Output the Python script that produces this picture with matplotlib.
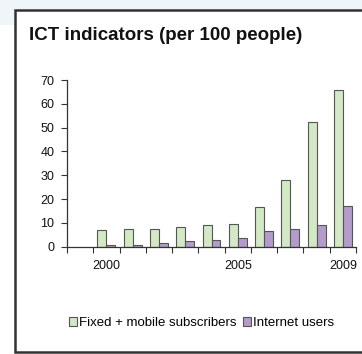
import matplotlib
matplotlib.use("Agg")
import matplotlib.pyplot as plt
from matplotlib.patches import Rectangle
import numpy as np

plt.rcParams['font.family'] = ['Liberation Sans', 'DejaVu Sans']

years = [2000, 2001, 2002, 2003, 2004, 2005, 2006, 2007, 2008, 2009]
subscribers = [7.2, 7.5, 7.6, 8.2, 9.2, 9.7, 16.8, 28.2, 52.4, 66.0]
internet = [0.7, 0.8, 1.4, 2.2, 2.9, 3.6, 6.8, 7.6, 9.3, 17.2]
year_labels = ["2000", "2005", "2009"]
series_names = ["Fixed + mobile subscribers", "Internet users"]

W, H = 362, 354
fig = plt.figure(figsize=(W / 100, H / 100), dpi=100)
fig.patch.set_facecolor("white")

# light header band and the framed panel
fig.add_artist(Rectangle((0, 1 - 25 / H), 1, 25 / H, transform=fig.transFigure,
                         facecolor="#eef6f9", edgecolor="none", zorder=-2))
fig.add_artist(Rectangle((14.5 / W, 2 / H), 1.2, 1 - 12 / H, transform=fig.transFigure,
                         facecolor="white", edgecolor="#333333", linewidth=1.8, zorder=-1))

fig.text(29 / W, 1 - 40.5 / H, "ICT indicators (per 100 people)", fontsize=13.5,
         fontweight="bold", color="#111111", va="baseline", ha="left")

ax = fig.add_axes([67 / W, 1 - 246.7 / H, (356 - 67) / W, (246.7 - 80) / H])
ax.set_facecolor("none")
ax.set_zorder(2)

x = np.array(years)
w = 0.342
edge = "#555555"
ax.bar(x - w / 2, subscribers, width=w, color="#d3e9c6", edgecolor=edge,
       linewidth=0.8, label=series_names[0])
ax.bar(x + w / 2, internet, width=w, color="#b49bcb", edgecolor=edge,
       linewidth=0.8, label=series_names[1])

ax.set_xlim(1998.5, 2009.5)
ax.set_ylim(0, 70)
ax.set_yticks(range(0, 71, 10))
ax.set_xticks(np.arange(1998.5, 2009.6, 1.0), minor=False)
ax.set_xticklabels([])
ax.set_xticks([int(s) for s in year_labels], minor=True)
ax.set_xticklabels(year_labels, minor=True)
ax.tick_params(axis="x", which="major", direction="out", length=4, width=0.8, color="#333333")
ax.tick_params(axis="x", which="minor", length=0, pad=9.5, labelsize=9, labelcolor="#111111")
ax.tick_params(axis="y", direction="out", length=4, width=0.8, color="#333333",
               labelsize=9, labelcolor="#111111", pad=5)

for side in ["top", "right"]:
    ax.spines[side].set_visible(False)
for side in ["left", "bottom"]:
    ax.spines[side].set_color("#333333")
    ax.spines[side].set_linewidth(0.9)

ax.legend(loc="center", bbox_to_anchor=(202 / W, 1 - 323 / H),
          bbox_transform=fig.transFigure, ncol=2, frameon=False, fontsize=9.5,
          handlelength=0.6, handleheight=0.6, handletextpad=0.15,
          columnspacing=0.5, borderpad=0)

fig.savefig("out.png", dpi=100)
